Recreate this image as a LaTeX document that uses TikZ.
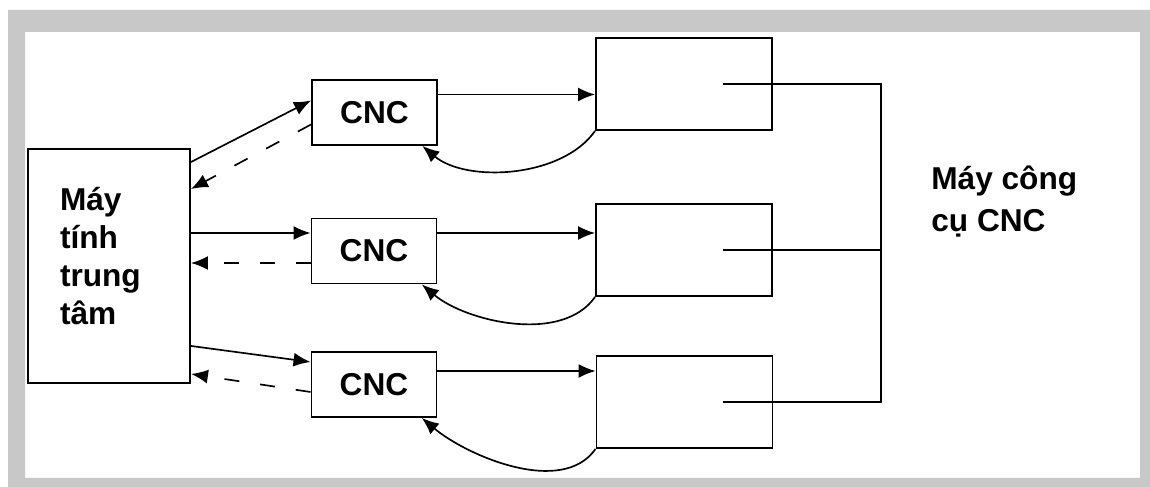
\documentclass[tikz,border=0pt]{standalone}
\usepackage{fontspec}
\setmainfont{Liberation Sans}
\usepackage{tikz}
\usetikzlibrary{arrows.meta, positioning, calc}
\definecolor{framegray}{RGB}{200,200,200}

\begin{document}
\begin{tikzpicture}[
    box/.style={draw, line width=1.1pt, rectangle, inner sep=0pt,
                font=\bfseries\fontsize{18}{21.6}\selectfont},
    cncbox/.style={box, minimum width=2.5cm, minimum height=1.3cm},
    toolbox/.style={box, minimum width=3.52cm, minimum height=1.84cm},
    wire/.style={line width=0.95pt},
    arr/.style={wire, -{Latex[length=0.34cm, width=0.28cm]}},
    back/.style={arr, dash pattern=on 0.3cm off 0.42cm}
]
\useasboundingbox (0,0) rectangle (23,-9.74);

% grey frame round the diagram
\fill[framegray, even odd rule] (0.16,-0.2) rectangle (23,-9.74)
                                (0.5,-0.64) rectangle (22.8,-9.56);

% central computer
\node[box, minimum height=4.68cm, text width=1.96cm, inner xsep=0.64cm,
      text depth=2.69cm, align=left] (main) at (2.18,-5.32)
      {Máy\\tính\\trung\\tâm};

% CNC controllers
\node[cncbox] (c1) at (7.49,-2.25) {CNC};
\node[cncbox] (c2) at (7.48,-5.02) {CNC};
\node[cncbox] (c3) at (7.48,-7.69) {CNC};

% machine tools
\node[toolbox] (m1) at (13.68,-1.68) {};
\node[toolbox] (m2) at (13.68,-5.0) {};
\node[toolbox] (m3) at (13.69,-8.04) {};

\node[font=\bfseries\fontsize{18}{24}\selectfont, align=left, inner sep=0pt,
      anchor=base west] (tools) at (18.62,-4.64) {Máy công\\cụ CNC};

% computer <-> CNC
\draw[arr] ($(main.north east)+(0,-0.28)$) -- ($(c1.west)+(0,0.24)$);
\draw[back] ($(c1.west)+(0,-0.24)$) -- ($(main.north east)+(0,-0.82)$);
\draw[arr] ($(main.east|-c2.west)+(0,0.36)$) -- ($(c2.west)+(0,0.36)$);
\draw[back] ($(c2.west)+(0,-0.24)$) -- ($(main.east|-c2.west)+(0,-0.24)$);
\draw[arr] ($(main.south east)+(0,0.76)$) -- ($(c3.west)+(0,0.45)$);
\draw[back] ($(c3.west)+(0,-0.15)$) -- ($(main.south east)+(0,0.2)$);

% CNC -> machine and feedback
\draw[arr] ($(c1.east)+(0,0.36)$) coordinate (o1) -- (m1.west|-o1);
\draw[arr] ($(c2.east)+(0,0.36)$) coordinate (o2) -- (m2.west|-o2);
\draw[arr] ($(c3.east)+(0,0.27)$) coordinate (o3) -- (m3.west|-o3);
\draw[arr] (m1.south west) to[out=-125, in=-40, looseness=0.85] (c1.-35);
\draw[arr] (m2.south west) to[out=-125, in=-40, looseness=0.85] (c2.-35);
\draw[arr] (m3.south west) to[out=-125, in=-40, looseness=0.85] (c3.-35);

% bus joining the machines
\draw[wire] ($(m1.east)+(-1,0)$) -- ($(m1.east)+(2.16,0)$) |- ($(m3.east)+(-1,0)$);
\draw[wire] ($(m2.east)+(-1,0)$) -- ($(m2.east)+(2.16,0)$);

\end{tikzpicture}
\end{document}
